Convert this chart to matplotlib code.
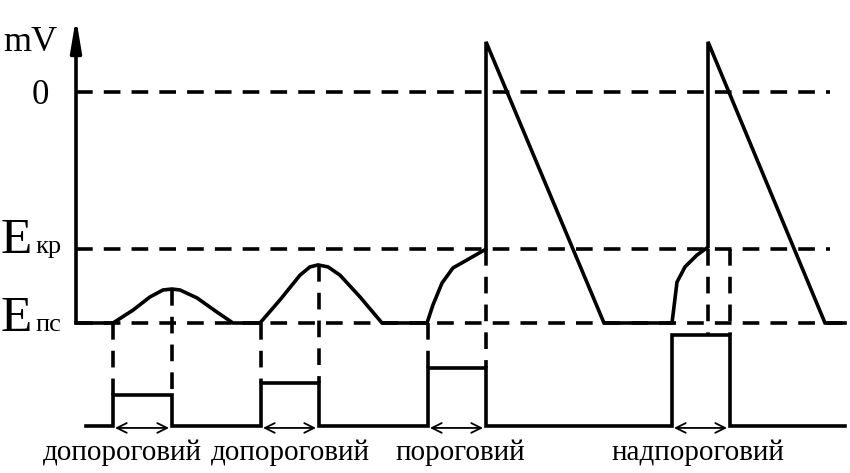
import matplotlib
matplotlib.use("Agg")
import matplotlib.pyplot as plt

plt.rcParams['font.family'] = ['Liberation Serif', 'DejaVu Serif']
plt.rcParams['lines.scale_dashes'] = False

# membrane potential levels (mV)
v_zero = 0.0
v_crit = -47.6
v_rest = -70.0
v_peak = 15.2

# membrane potential trace: time points and potential values
trace_t = [76, 113, 133, 150, 163, 172, 180, 197, 217, 233,
           260, 280, 300, 310, 318, 328, 340, 360, 382,
           427, 433, 442, 453, 467, 486, 486, 604,
           672, 677, 685, 697, 708, 708, 825, 845]
trace_v = [-70, -70, -66.1, -62.1, -60.0, -59.7, -60.0, -62.4, -66.7, -70,
           -70, -63.0, -55.5, -53.0, -52.4, -53.0, -55.5, -62.1, -70,
           -70, -64.5, -57.9, -53.3, -50.9, -47.6, 15.2, -70,
           -70, -57.6, -53.0, -49.4, -47.0, 15.2, -70, -70]

# stimuli: start, end, amplitude (arbitrary units)
stim_start = [113, 261, 428, 672]
stim_end = [172, 319, 486, 730]
stim_amp = [9.5, 13.0, 17.5, 27.5]
stim_base = -101.2
stim_names = ['допороговий', 'допороговий', 'пороговий', 'надпороговий']
# potential at the start/end markers of each stimulus (where dashed guides begin)
mark_t_start = [113, 261, 428, 708]
mark_v_start = [-70, -70, -70, -47.6]
mark_v_end = [-59.7, -52.4, -47.6, -47.6]

px = 3.3  # px per mV at 100 dpi
lw = 2.6
dash = (12, 8)
label_x = [122, 290, 460, 698]

fig = plt.figure(figsize=(8.5, 4.73), dpi=100)
ax = fig.add_axes([0, 0, 1, 1])
ax.set_xlim(0, 850)
ax.set_ylim((92 - 473) / px, 92 / px)
ax.axis('off')

# vertical axis with arrow
ax.annotate('', xy=(76, 22.5), xytext=(76, v_rest),
            arrowprops=dict(arrowstyle='-|>,head_length=1.2,head_width=0.2',
                            lw=lw, color='k', shrinkA=0, shrinkB=0,
                            mutation_scale=16))

# horizontal dashed reference levels
ax.plot([76, 830], [v_zero, v_zero], color='k', lw=lw, dashes=dash)
ax.plot([76, 830], [v_crit, v_crit], color='k', lw=lw, dashes=dash)
ax.plot([76, 845], [v_rest, v_rest], color='k', lw=lw, dashes=dash)

# membrane potential
ax.plot(trace_t, trace_v, color='k', lw=lw, solid_joinstyle='miter')

# stimulus trace
sx = [86]
sy = [stim_base]
for s, e, a in zip(stim_start, stim_end, stim_amp):
    sx += [s, s, e, e]
    sy += [stim_base, stim_base + a, stim_base + a, stim_base]
sx.append(845)
sy.append(stim_base)
ax.plot(sx, sy, color='k', lw=lw, solid_joinstyle='miter')

# dashed guides from trace down to stimulus
for ts, vs, e, ve, a in zip(mark_t_start, mark_v_start, stim_end, mark_v_end, stim_amp):
    ax.plot([ts, ts], [vs, stim_base + a], color='k', lw=lw, dashes=dash)
    ax.plot([e, e], [ve, stim_base + a], color='k', lw=lw, dashes=dash)

# duration arrows and labels
for s, e, name, lx in zip(stim_start, stim_end, stim_names, label_x):
    ax.annotate('', xy=(s + 2, stim_base - 0.6), xytext=(e - 3, stim_base - 0.6),
                arrowprops=dict(arrowstyle='<->,head_length=0.5,head_width=0.25',
                                lw=1.3, color='k', shrinkA=0, shrinkB=0,
                                mutation_scale=14))
    ax.text(lx, stim_base - 10.3, name, ha='center', va='baseline', fontsize=21)

# axis labels
ax.text(3, (92 - 51) / px, 'mV', ha='left', va='baseline', fontsize=26)
ax.text(49, (92 - 104) / px, '0', ha='right', va='baseline', fontsize=25)
for v, sub in [(v_crit, 'кр'), (v_rest, 'пс')]:
    base = v - (4 if sub == 'кр' else 8) / px
    ax.text(1, base, 'E', ha='left', va='baseline', fontsize=37)
    ax.text(35, base, sub, ha='left', va='baseline', fontsize=19)

fig.savefig('out.png', dpi=100)
